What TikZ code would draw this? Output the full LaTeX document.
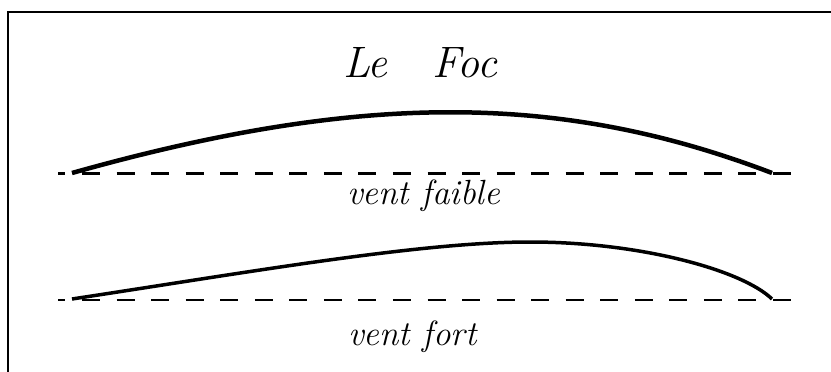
\documentclass[tikz,border=0pt]{standalone}
\usepackage{fontspec}
\begin{document}
\begin{tikzpicture}[x=1pt,y=-1pt,
  frameline/.style={line width=2.5pt},
  refline/.style={line width=2.6pt,dash pattern=on 18pt off 16.55pt,dash phase=10.55pt},
  sailA/.style={line width=4.5pt},
  sailB/.style={line width=3.5pt},
  titletext/.style={font=\fontsize{44}{50}\selectfont\itshape,inner sep=0pt},
  captext/.style={font=\fontsize{35}{40}\selectfont\itshape,inner sep=0pt}]
\useasboundingbox (0,0) rectangle (831,372);
% frame
\coordinate (fb) at (8,373);
\coordinate (fc) at (8,12);
\coordinate (fr) at (832,12);
\draw[frameline] (fb) -- (fc) -- (fr);
% title
\node[titletext,anchor=base] (title) at (420,77) {Le\hspace{45pt}Foc};
% weak wind
\coordinate (d1a) at (58,173.5);
\coordinate (d1b) at (791,173.5);
\draw[refline] (d1a) -- (d1b);
\coordinate (s1a) at (72,173);
\coordinate (s1b) at (772,173);
\draw[sailA] (s1a) .. controls (360,92) and (560,92) .. (s1b);
\node[captext,anchor=base west] (faible) at (347,204) {vent faible};
% strong wind
\coordinate (d2a) at (58,300);
\coordinate (d2b) at (791,300);
\draw[refline] (d2a) -- (d2b);
\coordinate (s2a) at (72,299);
\coordinate (s2m) at (530,242);
\coordinate (s2b) at (772,299);
\draw[sailB] (s2a) .. controls (250,272) and (420,242) .. (s2m)
             .. controls (640,242) and (742,270) .. (s2b);
\node[captext,anchor=base west] (fort) at (348,345) {vent fort};
\end{tikzpicture}
\end{document}
